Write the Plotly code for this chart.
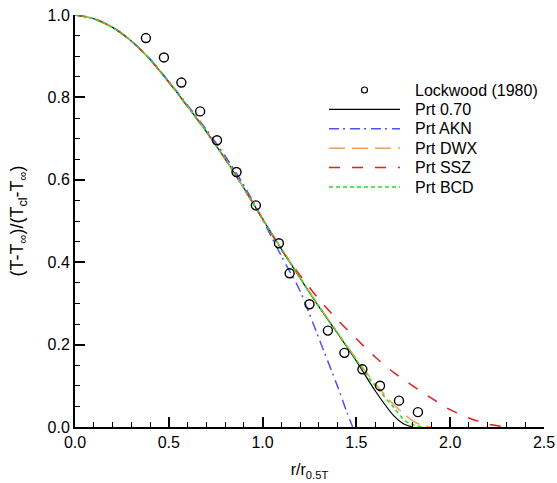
import plotly.graph_objects as go

# Lockwood (1980) experimental data
lock_x = [0.378, 0.474, 0.567, 0.667, 0.757, 0.861, 0.964, 1.087, 1.144, 1.250,
          1.348, 1.436, 1.532, 1.626, 1.727, 1.828]
lock_y = [0.944, 0.897, 0.836, 0.766, 0.696, 0.619, 0.538, 0.446, 0.373, 0.298,
          0.234, 0.180, 0.140, 0.100, 0.064, 0.036]

# Common initial part of the profiles
base_x = [0.0, 0.1, 0.2, 0.3, 0.4, 0.5, 0.6, 0.7, 0.8, 0.9, 1.0]
base_y = [1.0, 0.991, 0.970, 0.937, 0.892, 0.837, 0.778, 0.717, 0.651, 0.580, 0.505]

# Prt 0.70
p070_x = base_x + [1.1, 1.2, 1.3, 1.4, 1.5, 1.6, 1.7, 1.75, 1.8]
p070_y = base_y + [0.432, 0.361, 0.292, 0.227, 0.160, 0.088, 0.027, 0.008, 0.0]

# Prt AKN
akn_x = base_x + [1.1, 1.2, 1.3, 1.4, 1.45, 1.48]
akn_y = [1.0, 0.991, 0.970, 0.937, 0.893, 0.839, 0.781, 0.722, 0.658, 0.587, 0.503,
         0.415, 0.330, 0.215, 0.098, 0.035, 0.0]

# Prt DWX
dwx_x = base_x + [1.1, 1.2, 1.3, 1.4, 1.5, 1.6, 1.7, 1.8, 1.85, 1.9]
dwx_y = base_y + [0.433, 0.363, 0.294, 0.229, 0.165, 0.105, 0.054, 0.015, 0.004, 0.0]

# Prt SSZ
ssz_x = base_x + [1.1, 1.2, 1.3, 1.4, 1.5, 1.6, 1.7, 1.8, 1.9, 2.0, 2.1, 2.2, 2.3]
ssz_y = base_y + [0.430, 0.368, 0.310, 0.260, 0.214, 0.170, 0.132, 0.100, 0.070,
                  0.042, 0.022, 0.007, 0.0]

# Prt BCD
bcd_x = base_x + [1.1, 1.2, 1.3, 1.4, 1.5, 1.6, 1.7, 1.76, 1.8, 1.85]
bcd_y = base_y + [0.433, 0.362, 0.293, 0.228, 0.162, 0.100, 0.047, 0.015, 0.006, 0.0]

legend_labels = ["Lockwood (1980)", "Prt 0.70", "Prt AKN", "Prt DWX", "Prt SSZ", "Prt BCD"]

FONT = "Liberation Sans, Arial, sans-serif"

styles = {
    "Prt 0.70": ("black", "solid", 1.2),
    "Prt AKN": ("rgb(80,80,255)", "10px,4px,2px,5px", 1.5),
    "Prt DWX": ("rgb(245,160,80)", "16px,7px", 1.5),
    "Prt SSZ": ("rgb(230,30,30)", "11px,12px", 1.5),
    "Prt BCD": ("rgb(40,220,40)", "4px,3px", 1.5),
}

fig = go.Figure()

for name, xs, ys in [("Prt 0.70", p070_x, p070_y), ("Prt AKN", akn_x, akn_y),
                     ("Prt DWX", dwx_x, dwx_y), ("Prt SSZ", ssz_x, ssz_y),
                     ("Prt BCD", bcd_x, bcd_y)]:
    col, dash, w = styles[name]
    fig.add_trace(go.Scatter(
        x=xs, y=ys, mode="lines", name=name, showlegend=False,
        line=dict(color=col, dash=dash, width=w, shape="spline", smoothing=0.8),
    ))

fig.add_trace(go.Scatter(
    x=lock_x, y=lock_y, mode="markers", name="Lockwood (1980)", showlegend=False,
    marker=dict(symbol="circle-open", size=9, color="black", line=dict(width=1.4)),
))

# ---- manual legend (Tecplot style: long keys, tight rows) ----
L, R, T, B = 75, 544, 15, 427
def px2paper(px, py):
    return (px - L) / (R - L), (B - py) / (B - T)

row_py0, row_dy = 90.0, 19.4
key_x0, key_x1, text_x = 329, 400, 413
for i, lab in enumerate(legend_labels):
    py = row_py0 + i * row_dy
    xt, yt = px2paper(text_x, py)
    fig.add_annotation(x=xt, y=yt, xref="paper", yref="paper", text=lab,
                       showarrow=False, xanchor="left", yanchor="middle",
                       font=dict(family=FONT, size=16, color="black"))
    if i == 0:
        cx, cy = px2paper((key_x0 + key_x1) / 2, py)
        rx, ry = 3 / (R - L), 3 / (B - T)
        fig.add_shape(type="circle", xref="paper", yref="paper",
                      x0=cx - rx, x1=cx + rx, y0=cy - ry, y1=cy + ry,
                      line=dict(color="black", width=1.2))
    else:
        col, dash, w = styles[lab]
        x0, y0 = px2paper(key_x0, py)
        x1, _ = px2paper(key_x1, py)
        fig.add_shape(type="line", xref="paper", yref="paper",
                      x0=x0, x1=x1, y0=y0, y1=y0,
                      line=dict(color=col, dash=dash, width=w))

axis_common = dict(
    showline=True, linecolor="black", linewidth=2, mirror=False,
    ticks="inside", ticklen=10, tickwidth=2, tickcolor="black",
    showgrid=False, zeroline=False,
    tickfont=dict(family=FONT, size=16, color="black"),
)

fig.update_xaxes(
    range=[0, 2.5], dtick=0.5, tickformat=".1f",
    minor=dict(dtick=0.1, ticks="inside", ticklen=5, tickwidth=1, tickcolor="black"),
    title=dict(text="r/r<sub>0.5T</sub>", font=dict(family=FONT, size=16, color="black"), standoff=14),
    **axis_common,
)
fig.update_yaxes(
    range=[0, 1.0], dtick=0.2, tickformat=".1f",
    minor=dict(dtick=0.05, ticks="inside", ticklen=5, tickwidth=1, tickcolor="black"),
    title=dict(text="(T-T<sub>∞</sub>)/(T<sub>cl</sub>-T<sub>∞</sub>)",
               font=dict(family=FONT, size=18, color="black"), standoff=19),
    **axis_common,
)

fig.update_layout(
    width=557, height=483,
    margin=dict(l=75, r=13, t=15, b=56, autoexpand=False),
    paper_bgcolor="white", plot_bgcolor="white",
    showlegend=False,
    font=dict(family=FONT, size=16, color="black"),
)

fig.write_html("out.html")
